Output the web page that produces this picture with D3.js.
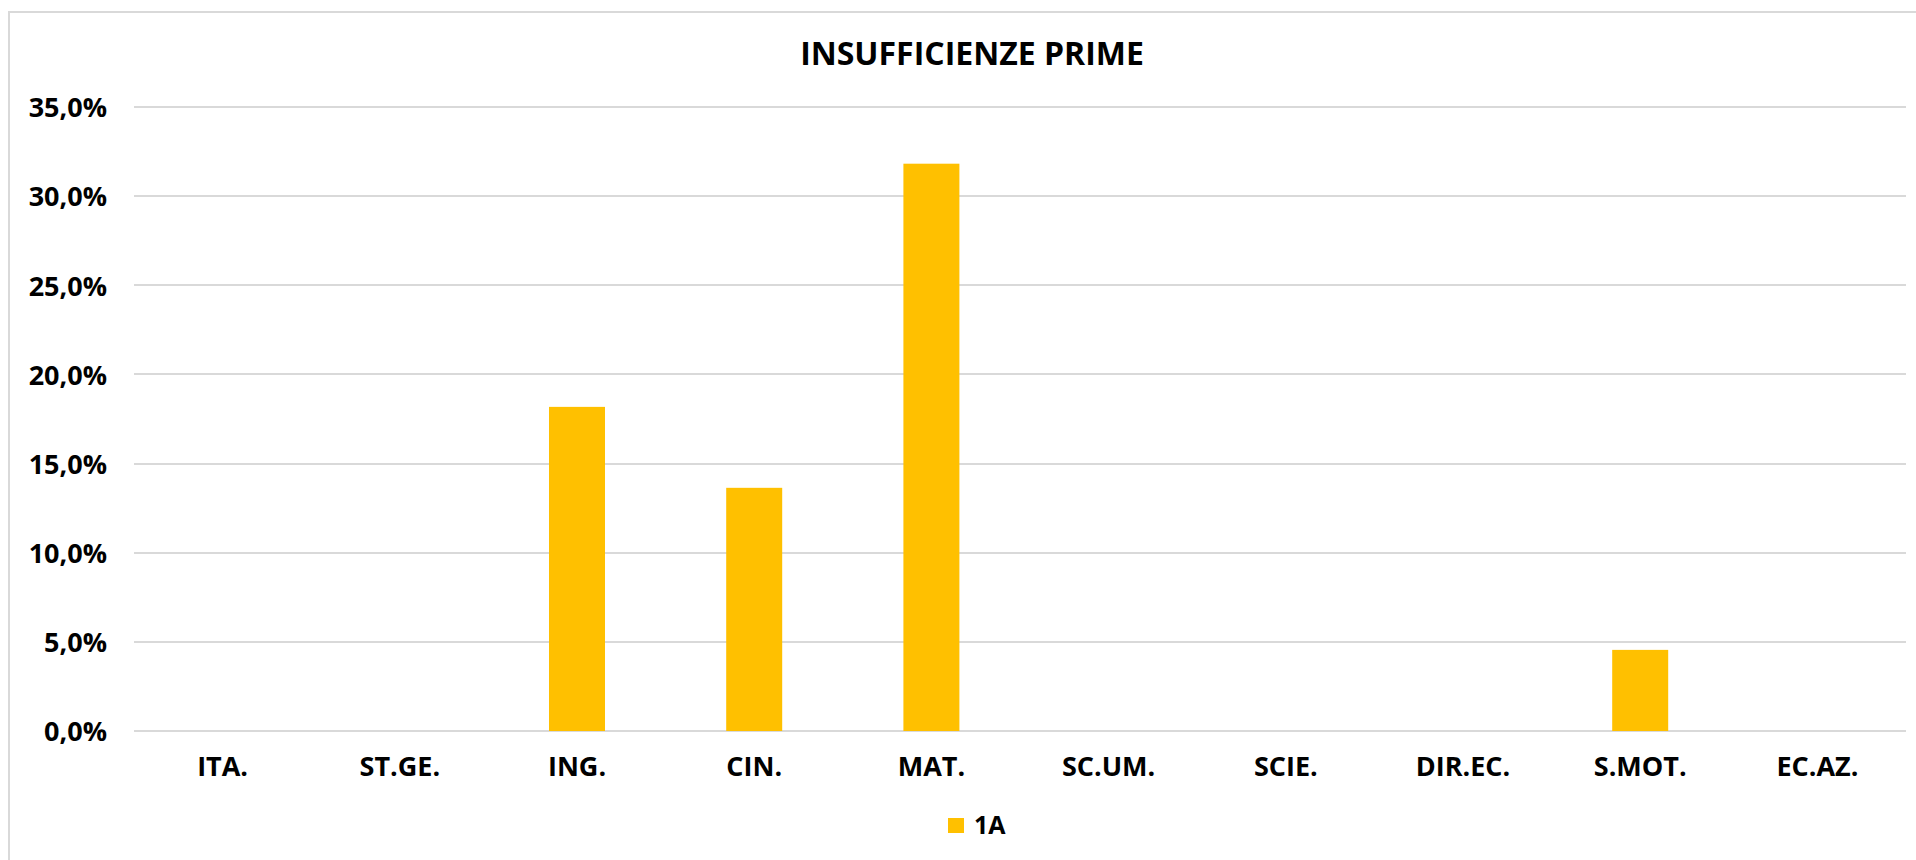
<!DOCTYPE html>
<html>
<head>
<meta charset="utf-8">
<script src="https://cdn.jsdelivr.net/npm/d3@7"></script>
<style>
  html, body { margin: 0; padding: 0; background: #fff; }
  svg { display: block; }
  text { font-family: "Open Sans", "Noto Sans", sans-serif; font-weight: 700; fill: #000; }
</style>
</head>
<body>
<svg id="chart" width="1916" height="860"></svg>
<script>
const title = "INSUFFICIENZE PRIME";
const categories = ["ITA.", "ST.GE.", "ING.", "CIN.", "MAT.", "SC.UM.", "SCIE.", "DIR.EC.", "S.MOT.", "EC.AZ."];
const seriesName = "1A";
const values = [0, 0, 0.1818, 0.1364, 0.3182, 0, 0, 0, 0.0455, 0];
const yTicks = [0, 0.05, 0.10, 0.15, 0.20, 0.25, 0.30, 0.35];

const svg = d3.select("#chart");
const W = 1916, H = 860;
const plot = { left: 134, right: 1906, top: 107, bottom: 731 };

// chart area border (light gray)
svg.append("path")
  .attr("d", `M9,${H + 5} L9,12 L${W + 5},12`)
  .attr("fill", "none")
  .attr("stroke", "#d9d9d9")
  .attr("stroke-width", 2);

const x = d3.scaleBand()
  .domain(categories)
  .range([plot.left, plot.right])
  .paddingInner(0.684)
  .paddingOuter(0.342);

const y = d3.scaleLinear()
  .domain([0, 0.35])
  .range([plot.bottom, plot.top]);

const fmt = v => d3.format(".1f")(v * 100).replace(".", ",") + "%";

// gridlines
svg.append("g")
  .selectAll("line")
  .data(yTicks)
  .join("line")
  .attr("x1", plot.left)
  .attr("x2", plot.right)
  .attr("y1", d => Math.round(y(d)))
  .attr("y2", d => Math.round(y(d)))
  .attr("stroke", "#d9d9d9")
  .attr("stroke-width", 2);

// y axis labels
const yAxis = d3.axisLeft(y).tickValues(yTicks).tickFormat(fmt).tickSize(0).tickPadding(0);
const gy = svg.append("g")
  .attr("transform", `translate(${plot.left - 27},0)`)
  .call(yAxis);
gy.select(".domain").remove();
gy.selectAll("text")
  .attr("font-size", 27)
  .attr("font-family", "'Open Sans', sans-serif")
  .attr("font-weight", 700)
  .attr("fill", "#000")
  .attr("dy", "0.36em");

// bars
svg.append("g")
  .selectAll("rect")
  .data(values.map((v, i) => ({ c: categories[i], v })))
  .join("rect")
  .attr("x", d => x(d.c))
  .attr("width", x.bandwidth())
  .attr("y", d => y(d.v))
  .attr("height", d => y(0) - y(d.v))
  .attr("fill", "#FFC000");

// x axis labels
const xAxis = d3.axisBottom(x).tickSize(0).tickPadding(0);
const gx = svg.append("g")
  .attr("transform", `translate(0,${plot.bottom})`)
  .call(xAxis);
gx.select(".domain").remove();
gx.selectAll("text")
  .attr("font-size", 27)
  .attr("font-family", "'Open Sans', sans-serif")
  .attr("font-weight", 700)
  .attr("fill", "#000")
  .attr("dy", null)
  .attr("y", 45);

// title
svg.append("text")
  .attr("x", 972)
  .attr("y", 65)
  .attr("text-anchor", "middle")
  .attr("font-size", 32)
  .text(title);

// legend
const lg = svg.append("g");
lg.append("rect")
  .attr("x", 948).attr("y", 818)
  .attr("width", 16).attr("height", 15)
  .attr("fill", "#FFC000");
lg.append("text")
  .attr("x", 974).attr("y", 834)
  .attr("font-size", 25)
  .text(seriesName);
</script>
</body>
</html>
